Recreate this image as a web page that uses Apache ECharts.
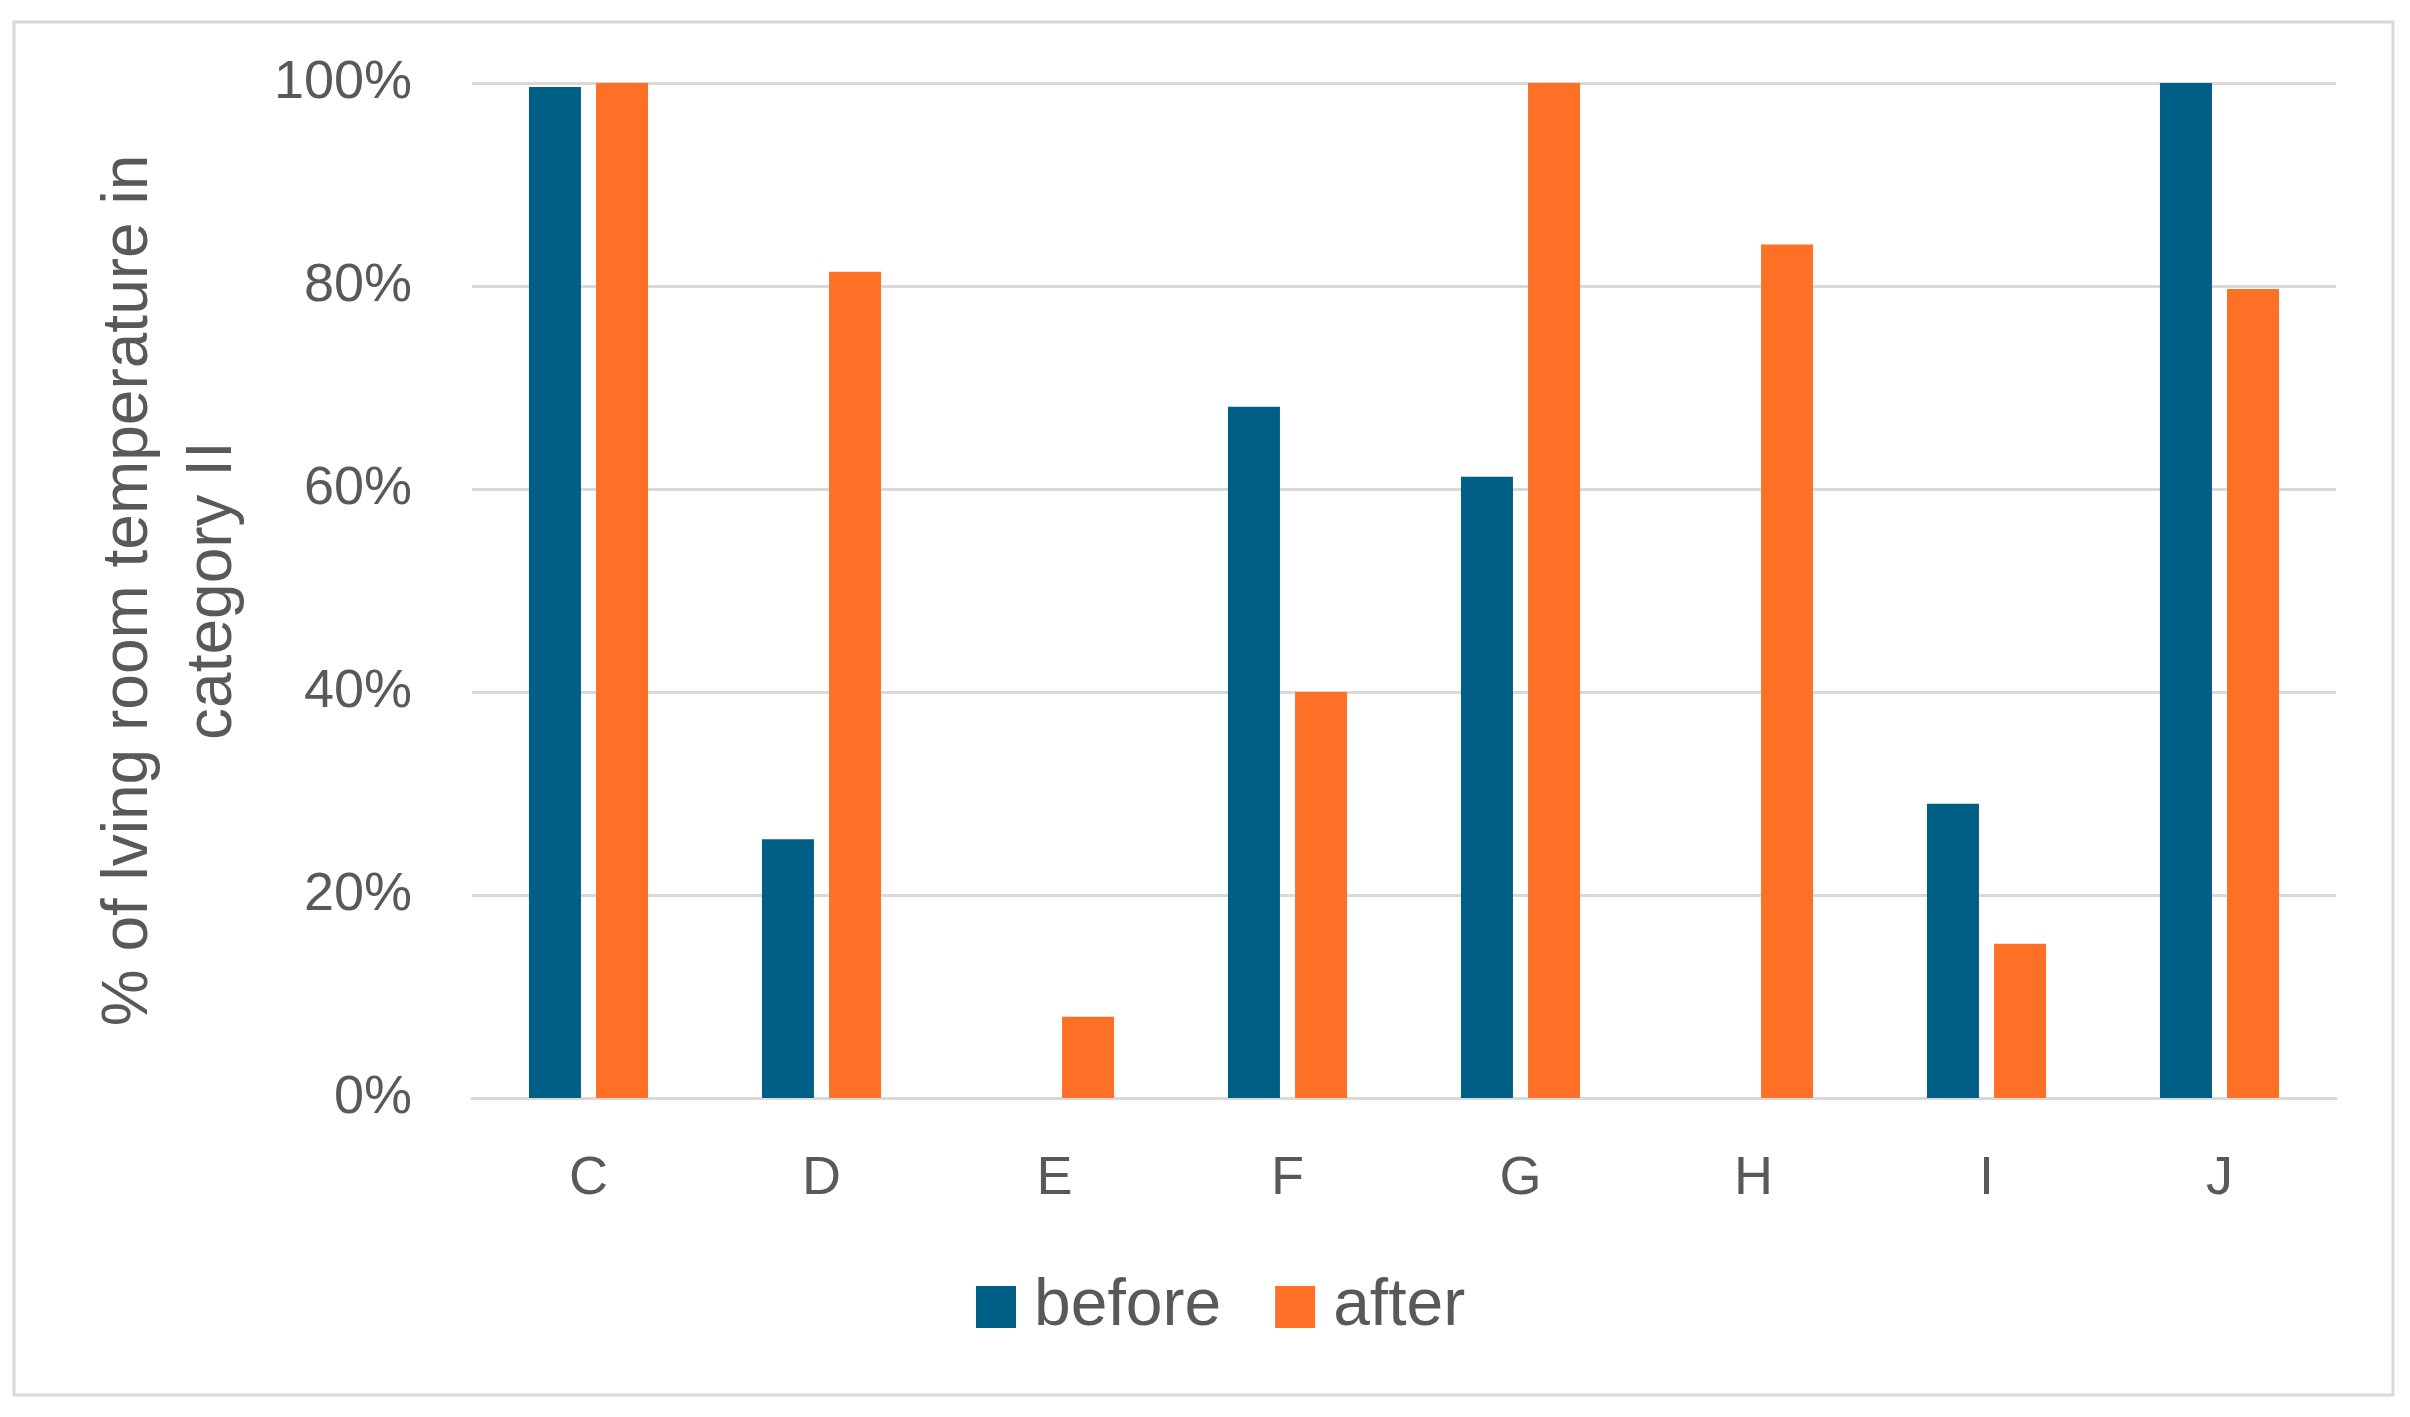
<!DOCTYPE html>
<html>
<head>
<meta charset="utf-8">
<script src="https://cdn.jsdelivr.net/npm/echarts@6/dist/echarts.min.js"></script>
<style>
html,body{margin:0;padding:0;background:#fff;}
#chart{width:2410px;height:1417px;}
</style>
</head>
<body>
<div id="chart"></div>
<script>
var categories = ['C','D','E','F','G','H','I','J'];
var beforeValues = [99.6, 25.5, 0, 68.1, 61.2, 0, 29.0, 100];
var afterValues = [100, 81.4, 8.0, 40.0, 100, 84.1, 15.2, 79.7];
var yTicks = [0, 20, 40, 60, 80, 100];
var seriesNames = ['before', 'after'];

var chart = echarts.init(document.getElementById('chart'));
var textColor = '#595959';
var gridColor = '#d9d9d9';
chart.setOption({
  animation: false,
  backgroundColor: '#ffffff',
  graphic: [{
    type: 'rect',
    shape: {x: 14, y: 22, width: 2379, height: 1373},
    style: {fill: 'none', stroke: gridColor, lineWidth: 3},
    z: -1
  }],
  grid: {left: 472, right: 74, top: 83, bottom: 319, containLabel: false, outerBoundsMode: 'none'},
  legend: {
    data: seriesNames,
    bottom: 72,
    left: 971,
    itemWidth: 40,
    itemHeight: 42,
    itemGap: 54,
    icon: 'rect',
    textStyle: {color: textColor, fontSize: 66, fontFamily: 'Liberation Sans Narrow, Liberation Sans, Arial', padding: [0, 0, 0, 13]}
  },
  xAxis: {
    type: 'category',
    data: categories,
    axisLine: {lineStyle: {color: gridColor, width: 3}},
    axisTick: {show: false},
    axisLabel: {color: textColor, fontSize: 54, margin: 54, fontFamily: 'Liberation Sans Narrow, Liberation Sans, Arial'}
  },
  yAxis: {
    type: 'value',
    min: yTicks[0],
    max: yTicks[yTicks.length - 1],
    interval: 20,
    name: '% of lving room temperature in\ncategory II',
    nameLocation: 'middle',
    nameGap: 217,
    nameRotate: 90,
    nameTextStyle: {color: textColor, fontSize: 64, lineHeight: 84, fontFamily: 'Liberation Sans, Arial'},
    axisLine: {show: false},
    axisTick: {show: false},
    splitLine: {lineStyle: {color: gridColor, width: 3}},
    axisLabel: {color: textColor, fontSize: 54, margin: 60, formatter: '{value}%', fontFamily: 'Liberation Sans Narrow, Liberation Sans, Arial'}
  },
  series: [{
    name: seriesNames[0],
    type: 'bar',
    data: beforeValues,
    barWidth: 52,
    barGap: '29%',
    itemStyle: {color: '#005f86'}
  }, {
    name: seriesNames[1],
    type: 'bar',
    data: afterValues,
    barWidth: 52,
    barGap: '29%',
    itemStyle: {color: '#ff7027'}
  }]
});
</script>
</body>
</html>
